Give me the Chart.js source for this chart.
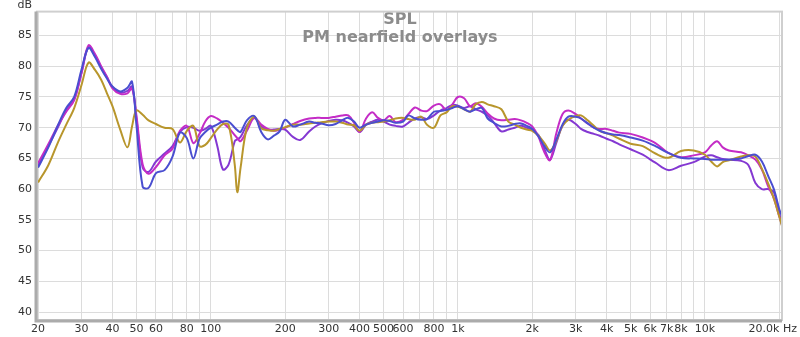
<!DOCTYPE html>
<html lang="en">
<head>
    <meta charset="UTF-8">
    <title>SPL - PM nearfield overlays</title>
    <style>
        * { margin: 0; padding: 0; box-sizing: border-box; }
        body { background: #fff; width: 800px; height: 337px; overflow: hidden; }
        #spl { display: block; }
    </style>
</head>
<body>
    <canvas id="spl" width="800" height="337"></canvas>

    <script src="https://cdn.jsdelivr.net/npm/chart.js"></script>
    <script>
        // frequency points (Hz)
        const freqHz = [20,22,24,26,28,30,32,34,36,38,40,43,46,48,50,53,56,60,65,70,
            75,80,85,90,95,100,106,112,118,125,128,132,140,150,160,170,180,190,200,215,
            230,250,265,280,300,320,340,360,380,400,425,450,475,500,530,560,600,630,670,710,
            750,800,850,900,950,1000,1060,1120,1180,1250,1320,1400,1500,1600,1700,1800,1900,2000,2120,2240,
            2360,2500,2650,2800,3000,3150,3350,3550,3750,4000,4250,4500,5000,5600,6300,7100,8000,9000,10000,10600,
            11200,11800,12500,14000,15000,16000,17000,18000,19000,20000,20500];

        // SPL readings (dB), one array per measurement
        const blueDb = [63.5,66.8,70.3,73.2,75.0,79.5,83.0,81.5,79.6,78.0,76.7,75.9,76.5,77.5,70.5,60.4,60.2,62.6,63.1,65.3,
            69.2,68.3,65.0,68.2,69.3,70.0,70.5,71.0,71.0,70.0,69.6,69.3,71.2,71.9,69.3,68.1,68.7,69.4,71.3,70.2,
            70.5,71.0,70.8,70.7,70.4,70.6,71.2,71.6,71.0,70.0,70.5,70.8,71.0,71.2,71.1,70.8,71.0,72.0,71.5,71.3,
            71.4,72.6,72.7,72.9,73.2,73.5,73.0,72.6,73.0,73.2,71.5,70.8,70.2,70.3,70.6,70.7,70.3,69.8,68.6,67.0,
            66.0,68.0,70.5,71.8,71.8,71.5,70.7,70.0,69.5,69.1,68.9,68.8,68.4,67.9,67.0,65.9,65.1,65.0,64.9,64.8,
            64.8,64.8,64.8,65.0,65.4,65.6,64.5,62.2,60.0,56.7,55.6];
        const magentaDb = [64.2,67.3,70.3,72.6,74.5,79.0,83.4,82.0,80.0,78.3,76.4,75.5,75.6,76.4,72.0,64.0,62.5,63.6,65.5,66.6,
            69.5,70.3,67.5,69.0,71.0,71.9,71.5,70.8,70.0,68.8,68.3,67.8,69.5,71.6,70.5,69.8,69.5,69.7,70.0,70.6,
            71.1,71.5,71.6,71.6,71.6,71.8,72.0,72.0,70.8,69.3,71.5,72.5,71.6,71.2,71.9,70.9,71.3,72.2,73.3,72.8,
            72.7,73.6,73.8,72.8,73.8,75.0,74.8,73.5,74.0,73.4,72.3,71.5,71.2,71.3,71.4,71.2,70.8,70.2,68.5,66.0,
            64.7,69.0,72.2,72.8,72.2,71.5,70.7,70.0,69.8,69.8,69.5,69.2,69.0,68.4,67.5,65.9,65.2,65.5,66.0,67.1,
            67.8,66.8,66.3,66.0,65.5,64.8,63.2,60.5,58.5,55.5,54.2];
        const purpleDb = [63.8,67.0,70.0,72.8,74.6,79.0,83.1,81.7,79.8,78.2,76.6,75.7,76.0,76.7,71.5,63.5,62.8,64.5,65.8,67.0,
            69.3,70.1,70.0,69.5,69.8,70.3,67.2,63.2,64.0,67.8,68.1,68.5,70.4,71.6,70.2,69.7,69.7,69.8,69.7,68.5,
            68.0,69.4,70.2,70.7,71.1,71.3,71.2,70.8,70.2,69.3,70.5,71.0,71.3,71.0,70.5,70.3,70.2,70.8,71.5,71.7,
            71.4,72.0,72.8,73.2,73.7,73.6,73.2,73.5,73.0,72.6,72.0,70.8,69.4,69.7,70.0,70.3,70.0,69.6,68.8,66.5,
            64.8,67.5,70.3,71.3,70.6,69.8,69.3,69.0,68.7,68.2,67.8,67.3,66.5,65.6,64.3,63.1,63.8,64.4,65.3,65.5,
            65.2,64.9,64.8,64.6,63.9,61.0,60.0,60.0,59.5,56.0,54.2];
        const oliveDb = [61.1,63.9,67.5,70.5,73.2,77.0,80.6,79.4,77.8,75.6,73.5,69.7,66.8,70.2,72.8,72.1,71.2,70.6,70.0,69.8,
            67.6,69.5,70.3,67.0,67.2,68.3,69.7,70.6,70.5,64.0,59.5,63.5,70.0,71.8,69.9,69.6,69.5,69.8,70.1,70.5,
            70.5,70.7,70.8,70.9,71.0,71.0,70.8,70.5,70.4,69.5,70.5,70.8,70.9,71.0,71.2,71.5,71.6,71.4,71.3,71.8,
            70.5,70.0,72.0,72.5,73.5,73.4,73.0,72.6,73.8,74.2,73.8,73.5,73.0,71.0,70.5,70.0,69.7,69.5,68.7,67.5,
            66.3,67.8,70.3,71.3,71.9,72.0,71.2,70.3,69.5,69.1,68.7,68.2,67.4,67.0,65.8,65.1,66.2,66.3,65.6,64.5,
            63.7,64.4,64.7,65.3,65.5,65.3,63.3,61.0,58.5,55.5,54.0];

        // grid lines and which of them get a label
        const gridHz = [20,30,40,50,60,70,80,90,100,200,300,400,500,600,700,800,900,
            1000,2000,3000,4000,5000,6000,7000,8000,9000,10000,20000];
        const labelHz = [20,30,40,50,60,80,100,200,300,400,500,600,800,1000,
            2000,3000,4000,5000,6000,7000,8000,10000];
        const yTicks = [40,45,50,55,60,65,70,75,80,85];

        const series = [
            { data: blueDb, color: '#4a4ed0' },
            { data: oliveDb, color: '#b8962c' },
            { data: magentaDb, color: '#c42cc6' },
            { data: purpleDb, color: '#8438d2' }
        ];

        function fmtHz(v) {
            if (v >= 1000) return (v / 1000) + 'k';
            return String(v);
        }

        const decor = {
            id: 'decor',
            beforeDatasetsDraw(chart) {
                const ctx = chart.ctx;
                ctx.save();
                ctx.fillStyle = '#8c8c8c';
                ctx.font = 'bold 16px "DejaVu Sans"';
                ctx.textAlign = 'center';
                ctx.textBaseline = 'middle';
                ctx.fillText('SPL', 400, 20);
                ctx.fillText('PM nearfield overlays', 400, 38);
                ctx.restore();
            },
            afterDraw(chart) {
                const ctx = chart.ctx;
                const a = chart.chartArea;
                ctx.save();
                // frame
                ctx.strokeStyle = '#cfcfcf';
                ctx.lineWidth = 2;
                ctx.strokeRect(a.left, a.top, a.right - a.left, a.bottom - a.top);
                ctx.strokeStyle = '#ababab';
                ctx.lineWidth = 3;
                ctx.beginPath();
                ctx.moveTo(a.left - 1, a.top);
                ctx.lineTo(a.left - 1, a.bottom + 1);
                ctx.lineTo(a.right, a.bottom + 1);
                ctx.stroke();
                // unit labels
                ctx.fillStyle = '#333';
                ctx.font = '11px "DejaVu Sans"';
                ctx.textBaseline = 'middle';
                ctx.textAlign = 'right';
                ctx.fillText('dB', 32, 5);
                ctx.fillText('20.0k Hz', 797, 329);
                ctx.restore();
            }
        };

        new Chart(document.getElementById('spl'), {
            type: 'line',
            data: {
                datasets: series.map(s => ({
                    data: freqHz.map((f, i) => ({ x: f, y: s.data[i] })),
                    borderColor: s.color,
                    borderWidth: 2,
                    pointRadius: 0,
                    tension: 0.35,
                    fill: false
                }))
            },
            options: {
                responsive: false,
                animation: false,
                devicePixelRatio: 1,
                layout: { padding: { top: 10, right: 18, left: 0, bottom: 0 } },
                plugins: { legend: { display: false }, tooltip: { enabled: false } },
                scales: {
                    x: {
                        type: 'logarithmic',
                        min: 19.8,
                        max: 20500,
                        afterBuildTicks: scale => { scale.ticks = gridHz.map(v => ({ value: v })); },
                        afterFit: scale => { scale.height = 17; },
                        grid: { color: '#dcdcdc', drawTicks: false },
                        border: { display: false },
                        ticks: {
                            autoSkip: false,
                            maxRotation: 0,
                            padding: 3,
                            color: '#333',
                            font: { family: 'DejaVu Sans', size: 11 },
                            callback: v => labelHz.includes(v) ? fmtHz(v) : ''
                        }
                    },
                    y: {
                        min: 38.7,
                        max: 88.9,
                        afterBuildTicks: scale => { scale.ticks = yTicks.map(v => ({ value: v })); },
                        afterFit: scale => { scale.width = 37; },
                        grid: { color: '#dcdcdc', drawTicks: false },
                        border: { display: false },
                        ticks: {
                            padding: 5,
                            color: '#333',
                            font: { family: 'DejaVu Sans', size: 11 }
                        }
                    }
                }
            },
            plugins: [decor]
        });
    </script>
</body>
</html>
